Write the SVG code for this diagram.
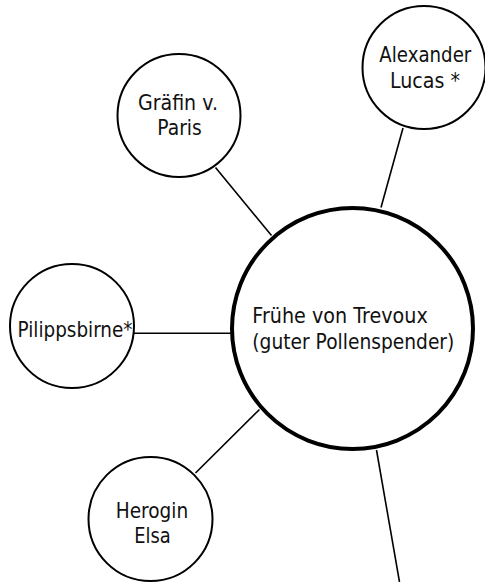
<svg xmlns="http://www.w3.org/2000/svg" width="485" height="582" viewBox="0 0 485 582">
<style>
.n{fill:#fff;stroke:#000;stroke-width:2}
.m{fill:#fff;stroke:#000;stroke-width:4}
.c{stroke:#000;stroke-width:1.6;fill:none}
text{font-family:"DejaVu Sans","Liberation Sans",sans-serif;font-size:21px;fill:#111}
.mid{text-anchor:middle}
</style>
<rect width="485" height="582" fill="#fff"/>
<g id="connectors">
<line class="c" x1="215.5" y1="167.5" x2="271.5" y2="235.5"/>
<line class="c" x1="403" y1="128" x2="381" y2="207.5"/>
<line class="c" x1="134" y1="333.3" x2="232" y2="333.3"/>
<line class="c" x1="195.5" y1="473" x2="259.5" y2="409.5"/>
<line class="c" x1="376.5" y1="450" x2="399.5" y2="582"/>
</g>
<g id="graefin">
<circle class="n" cx="179" cy="115.5" r="61.5"/>
<text class="mid" x="178" y="109.5" textLength="80" lengthAdjust="spacingAndGlyphs">Gräfin v.</text>
<text class="mid" x="179.5" y="135" textLength="44.5" lengthAdjust="spacingAndGlyphs">Paris</text>
</g>
<g id="alexander">
<circle class="n" cx="424" cy="67.5" r="61.5"/>
<text class="mid" x="425.3" y="62" textLength="92" lengthAdjust="spacingAndGlyphs">Alexander</text>
<text class="mid" x="425" y="88" textLength="70" lengthAdjust="spacingAndGlyphs">Lucas *</text>
</g>
<g id="pilippsbirne">
<circle class="n" cx="72" cy="326" r="62"/>
<text x="17.5" y="336.5" textLength="115" lengthAdjust="spacingAndGlyphs">Pilippsbirne*</text>
</g>
<g id="herogin">
<circle class="n" cx="150.5" cy="519" r="62"/>
<text class="mid" x="152" y="517.5" textLength="72.5" lengthAdjust="spacingAndGlyphs">Herogin</text>
<text class="mid" x="152.5" y="542.7" textLength="36.5" lengthAdjust="spacingAndGlyphs">Elsa</text>
</g>
<g id="fruehe">
<circle class="m" cx="352.5" cy="328.5" r="120.5"/>
<text x="252.3" y="323.2" textLength="175.5" lengthAdjust="spacingAndGlyphs">Frühe von Trevoux</text>
<text x="252.3" y="349.3" textLength="202" lengthAdjust="spacingAndGlyphs">(guter Pollenspender)</text>
</g>
</svg>
